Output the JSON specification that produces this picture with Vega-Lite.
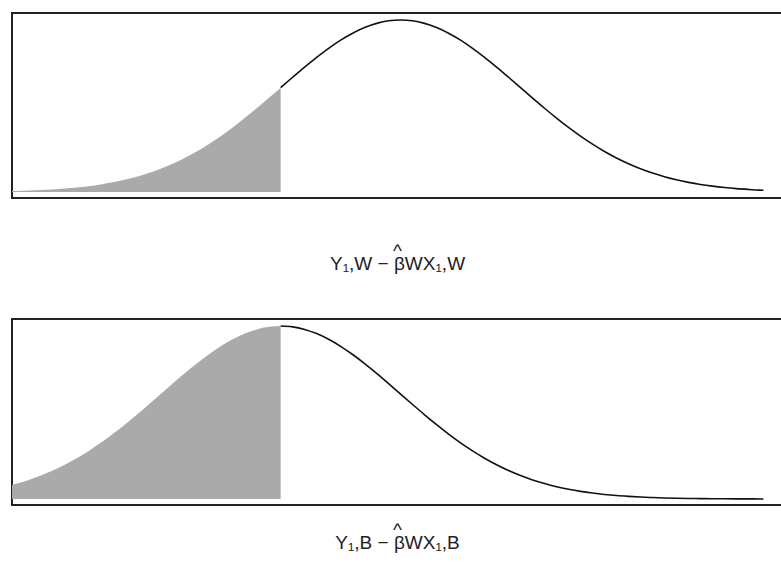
{
  "$schema": "https://vega.github.io/schema/vega-lite/v6.json",
  "padding": {"left": 11, "top": 12, "right": 0, "bottom": 0},
  "background": "white",
  "spacing": 44,
  "config": {
    "view": {"stroke": "#222222", "strokeWidth": 2},
    "axis": {"titleFont": "Liberation Sans", "titleFontWeight": "normal", "titleFontSize": 19, "titleLineHeight": 13, "titleColor": "#222222", "labels": false, "ticks": false, "domain": false, "grid": false}
  },
  "datasets": {
    "white": [
      {"x": -3.24, "y": 0.0021}, {"x": -3.2, "y": 0.0024}, {"x": -3.1, "y": 0.0033}, {"x": -3.0, "y": 0.0044},
      {"x": -2.9, "y": 0.0060}, {"x": -2.8, "y": 0.0079}, {"x": -2.7, "y": 0.0104}, {"x": -2.6, "y": 0.0136},
      {"x": -2.5, "y": 0.0175}, {"x": -2.4, "y": 0.0224}, {"x": -2.3, "y": 0.0283}, {"x": -2.2, "y": 0.0355},
      {"x": -2.1, "y": 0.0440}, {"x": -2.0, "y": 0.0540}, {"x": -1.9, "y": 0.0656}, {"x": -1.8, "y": 0.0790},
      {"x": -1.7, "y": 0.0940}, {"x": -1.6, "y": 0.1109}, {"x": -1.5, "y": 0.1295}, {"x": -1.4, "y": 0.1497},
      {"x": -1.3, "y": 0.1714}, {"x": -1.2, "y": 0.1942}, {"x": -1.1, "y": 0.2179}, {"x": -1.0, "y": 0.2420},
      {"x": -0.9, "y": 0.2661}, {"x": -0.8, "y": 0.2897}, {"x": -0.7, "y": 0.3123}, {"x": -0.6, "y": 0.3332},
      {"x": -0.5, "y": 0.3521}, {"x": -0.4, "y": 0.3683}, {"x": -0.3, "y": 0.3814}, {"x": -0.2, "y": 0.3910},
      {"x": -0.1, "y": 0.3970}, {"x": 0.0, "y": 0.3989}, {"x": 0.1, "y": 0.3970}, {"x": 0.2, "y": 0.3910},
      {"x": 0.3, "y": 0.3814}, {"x": 0.4, "y": 0.3683}, {"x": 0.5, "y": 0.3521}, {"x": 0.6, "y": 0.3332},
      {"x": 0.7, "y": 0.3123}, {"x": 0.8, "y": 0.2897}, {"x": 0.9, "y": 0.2661}, {"x": 1.0, "y": 0.2420},
      {"x": 1.1, "y": 0.2179}, {"x": 1.2, "y": 0.1942}, {"x": 1.3, "y": 0.1714}, {"x": 1.4, "y": 0.1497},
      {"x": 1.5, "y": 0.1295}, {"x": 1.6, "y": 0.1109}, {"x": 1.7, "y": 0.0940}, {"x": 1.8, "y": 0.0790},
      {"x": 1.9, "y": 0.0656}, {"x": 2.0, "y": 0.0540}, {"x": 2.1, "y": 0.0440}, {"x": 2.2, "y": 0.0355},
      {"x": 2.3, "y": 0.0283}, {"x": 2.4, "y": 0.0224}, {"x": 2.5, "y": 0.0175}, {"x": 2.6, "y": 0.0136},
      {"x": 2.7, "y": 0.0104}, {"x": 2.8, "y": 0.0079}, {"x": 2.9, "y": 0.0060}, {"x": 3.0, "y": 0.0044},
      {"x": 3.025, "y": 0.0041}
    ],
    "black": [
      {"x": -3.24, "y": 0.0325}, {"x": -3.2, "y": 0.0355}, {"x": -3.1, "y": 0.0440}, {"x": -3.0, "y": 0.0540},
      {"x": -2.9, "y": 0.0656}, {"x": -2.8, "y": 0.0790}, {"x": -2.7, "y": 0.0940}, {"x": -2.6, "y": 0.1109},
      {"x": -2.5, "y": 0.1295}, {"x": -2.4, "y": 0.1497}, {"x": -2.3, "y": 0.1714}, {"x": -2.2, "y": 0.1942},
      {"x": -2.1, "y": 0.2179}, {"x": -2.0, "y": 0.2420}, {"x": -1.9, "y": 0.2661}, {"x": -1.8, "y": 0.2897},
      {"x": -1.7, "y": 0.3123}, {"x": -1.6, "y": 0.3332}, {"x": -1.5, "y": 0.3521}, {"x": -1.4, "y": 0.3683},
      {"x": -1.3, "y": 0.3814}, {"x": -1.2, "y": 0.3910}, {"x": -1.1, "y": 0.3970}, {"x": -1.0, "y": 0.3989},
      {"x": -0.9, "y": 0.3970}, {"x": -0.8, "y": 0.3910}, {"x": -0.7, "y": 0.3814}, {"x": -0.6, "y": 0.3683},
      {"x": -0.5, "y": 0.3521}, {"x": -0.4, "y": 0.3332}, {"x": -0.3, "y": 0.3123}, {"x": -0.2, "y": 0.2897},
      {"x": -0.1, "y": 0.2661}, {"x": 0.0, "y": 0.2420}, {"x": 0.1, "y": 0.2179}, {"x": 0.2, "y": 0.1942},
      {"x": 0.3, "y": 0.1714}, {"x": 0.4, "y": 0.1497}, {"x": 0.5, "y": 0.1295}, {"x": 0.6, "y": 0.1109},
      {"x": 0.7, "y": 0.0940}, {"x": 0.8, "y": 0.0790}, {"x": 0.9, "y": 0.0656}, {"x": 1.0, "y": 0.0540},
      {"x": 1.1, "y": 0.0440}, {"x": 1.2, "y": 0.0355}, {"x": 1.3, "y": 0.0283}, {"x": 1.4, "y": 0.0224},
      {"x": 1.5, "y": 0.0175}, {"x": 1.6, "y": 0.0136}, {"x": 1.7, "y": 0.0104}, {"x": 1.8, "y": 0.0079},
      {"x": 1.9, "y": 0.0060}, {"x": 2.0, "y": 0.0044}, {"x": 2.1, "y": 0.0033}, {"x": 2.2, "y": 0.0024},
      {"x": 2.3, "y": 0.0017}, {"x": 2.4, "y": 0.0012}, {"x": 2.5, "y": 0.0009}, {"x": 2.6, "y": 0.0006},
      {"x": 2.7, "y": 0.0004}, {"x": 2.8, "y": 0.0003}, {"x": 2.9, "y": 0.0002}, {"x": 3.0, "y": 0.0001},
      {"x": 3.025, "y": 0.0001}
    ]
  },
  "vconcat": [
    {
      "width": 770,
      "height": 185,
      "data": {"name": "white"},
      "encoding": {
        "x": {"field": "x", "type": "quantitative", "scale": {"domain": [-3.24, 3.18], "nice": false, "zero": false}, "axis": {"title": ["^", "Y₁,W − βWX₁,W"], "titlePadding": 43}},
        "y": {"field": "y", "type": "quantitative", "scale": {"domain": [-0.0139, 0.4151], "nice": false, "zero": false}, "axis": null}
      },
      "layer": [
        {"transform": [{"filter": "datum.x <= -1"}], "mark": {"type": "area", "color": "#aaaaaa", "interpolate": "monotone"}, "encoding": {"y2": {"datum": 0}}},
        {"transform": [{"filter": "datum.x >= -1"}], "mark": {"type": "line", "color": "#111111", "strokeWidth": 1.6, "interpolate": "monotone"}}
      ]
    },
    {
      "width": 770,
      "height": 186,
      "data": {"name": "black"},
      "encoding": {
        "x": {"field": "x", "type": "quantitative", "scale": {"domain": [-3.24, 3.18], "nice": false, "zero": false}, "axis": {"title": ["^", "Y₁,B − βWX₁,B"], "titlePadding": 15}},
        "y": {"field": "y", "type": "quantitative", "scale": {"domain": [-0.0139, 0.4151], "nice": false, "zero": false}, "axis": null}
      },
      "layer": [
        {"transform": [{"filter": "datum.x <= -1"}], "mark": {"type": "area", "color": "#aaaaaa", "interpolate": "monotone"}, "encoding": {"y2": {"datum": 0}}},
        {"transform": [{"filter": "datum.x >= -1"}], "mark": {"type": "line", "color": "#111111", "strokeWidth": 1.6, "interpolate": "monotone"}}
      ]
    }
  ]
}
